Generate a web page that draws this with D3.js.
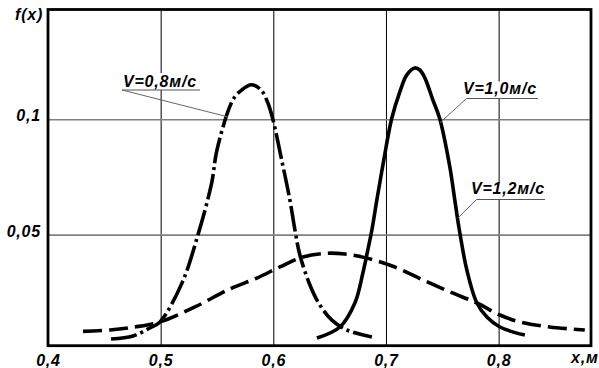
<!DOCTYPE html>
<html><head><meta charset="utf-8">
<script src="https://cdn.jsdelivr.net/npm/d3@7"></script>
<style>
html,body{margin:0;padding:0;background:#fff;}
svg text{font-family:"Liberation Sans",Arial,sans-serif;font-weight:bold;font-style:italic;font-size:16px;fill:#000;letter-spacing:0.8px;}
</style></head>
<body><svg id="c" width="599" height="368"></svg>
<script>
// ---- data ----
const xTicks = [0.4, 0.5, 0.6, 0.7, 0.8];
const yTicks = [0.05, 0.1];
const seriesNames = ["V=0,8м/с", "V=1,0м/с", "V=1,2м/с"];

const v08X = [0.456,0.4754,0.4905,0.4994,0.5189,0.5331,0.5453,0.5500,0.5642,0.5721,0.5807,0.589,0.5952,0.5997,0.6074,0.6147,0.6192,0.6236,0.6325,0.6413,0.6520,0.6653,0.6875];
const v08F = [0.0048,0.0061,0.0096,0.0122,0.0290,0.0499,0.0724,0.0867,0.1084,0.1127,0.1149,0.1127,0.1070,0.0997,0.0824,0.0650,0.0520,0.0412,0.0282,0.0195,0.0130,0.0087,0.0057];

const v10X = [0.6387,0.6591,0.6724,0.6795,0.6839,0.6875,0.6919,0.6981,0.7050,0.7123,0.7185,0.7256,0.7301,0.7345,0.7416,0.7478,0.7567,0.7611,0.7647,0.7718,0.7807,0.7896,0.8011,0.8233];
const v10F = [0.0052,0.0100,0.0204,0.0334,0.0434,0.0520,0.0650,0.0824,0.1001,0.1118,0.1192,0.1222,0.1213,0.1179,0.1084,0.1001,0.0793,0.0650,0.0533,0.0347,0.0204,0.0143,0.0100,0.0065];

const v12X = [0.4311,0.4550,0.4772,0.4994,0.5304,0.5615,0.5854,0.6059,0.6263,0.6458,0.6635,0.6857,0.7079,0.7327,0.7567,0.7807,0.8011,0.8188,0.8454,0.8765];
const v12F = [0.0081,0.0087,0.0100,0.0122,0.0187,0.0265,0.0312,0.0360,0.0403,0.0419,0.0416,0.0395,0.0360,0.0304,0.0252,0.0204,0.0152,0.0122,0.0100,0.0087];

// ---- layout ----
const L = 48, R = 591, T = 9.5, B = 345.7;
const svg = d3.select("#c");
const x = d3.scaleLinear().domain([0.4, 0.882]).range([L, R]);
const y = d3.scaleLinear().domain([0.0019, 0.1475]).range([B, T]);
const fmt = d => String(d).replace(".", ",");

// vertical grid + x labels
const gx = svg.append("g").attr("transform", `translate(0,${B})`)
  .call(d3.axisBottom(x).tickValues(xTicks).tickSize(-(B - T)).tickPadding(9).tickFormat(fmt));
gx.select(".domain").remove();
gx.selectAll("line").attr("stroke", "#000").attr("stroke-width", 1);
gx.selectAll("text").attr("font-size", null).attr("font-family", null).attr("fill", "#000");

// horizontal grid + y labels
const gy = svg.append("g").attr("transform", `translate(${L},0)`)
  .call(d3.axisLeft(y).tickValues(yTicks).tickSize(-(R - L)).tickPadding(7).tickFormat(fmt));
gy.select(".domain").remove();
gy.selectAll("line").attr("stroke", "#808080").attr("stroke-width", 1.6);
gy.selectAll("text").attr("font-size", null).attr("font-family", null).attr("fill", "#000").attr("dy", "0.1em");

// axis titles
svg.append("text").attr("x", 15).attr("y", 20).text("f(x)");
svg.append("text").attr("x", 571).attr("y", 363).text("x,м");

// labels with white background + underline + leader
const ann = [
  {name: seriesNames[0], tx: 123, ty: 87, ux1: 122, ux2: 200, uy: 90, lx: 0.5597, lf: 0.1010},
  {name: seriesNames[1], tx: 463, ty: 94, ux1: 466.5, ux2: 538, uy: 98.5, lx: 0.7478, lf: 0.0984},
  {name: seriesNames[2], tx: 471, ty: 194, ux1: 476.5, ux2: 545, uy: 199.5, lx: 0.7638, lf: 0.0572}
];
ann.forEach(a => {
  svg.append("rect").attr("x", a.ux1).attr("y", a.uy - 17).attr("width", a.ux2 - a.ux1).attr("height", 17).attr("fill", "#fff");
});

// curves
const line = d3.line().x(d => x(d[0])).y(d => y(d[1])).curve(d3.curveCatmullRom.alpha(0.5));
const series = [
  {xs: v08X, fs: v08F, dash: "26,4,3,4"},
  {xs: v10X, fs: v10F, dash: null},
  {xs: v12X, fs: v12F, dash: "19,7"}
];
series.forEach(s => {
  svg.append("path").datum(d3.zip(s.xs, s.fs)).attr("d", line)
    .attr("fill", "none").attr("stroke", "#000").attr("stroke-width", 3.6)
    .attr("stroke-dasharray", s.dash).attr("stroke-linejoin", "round");
});

ann.forEach(a => {
  svg.append("text").attr("x", a.tx).attr("y", a.ty).text(a.name);
  svg.append("line").attr("x1", a.ux1).attr("x2", a.ux2).attr("y1", a.uy).attr("y2", a.uy)
    .attr("stroke", "#555").attr("stroke-width", 1.2);
  svg.append("line").attr("x1", a.ux1).attr("y1", a.uy).attr("x2", x(a.lx)).attr("y2", y(a.lf))
    .attr("stroke", "#666").attr("stroke-width", 1);
});

// frame
svg.append("rect").attr("x", L).attr("y", T).attr("width", R - L).attr("height", B - T)
  .attr("fill", "none").attr("stroke", "#000").attr("stroke-width", 2.8);
</script></body></html>
